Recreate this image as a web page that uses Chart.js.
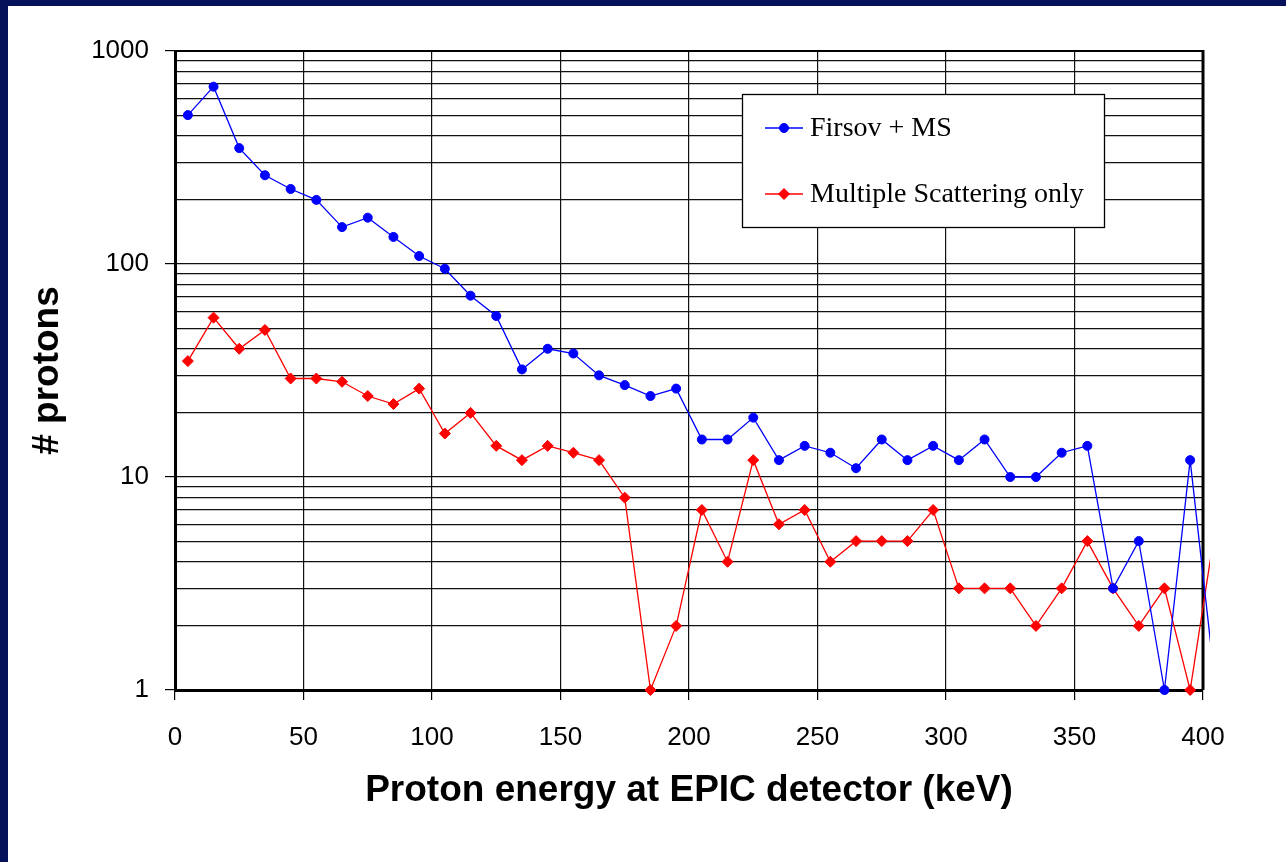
<!DOCTYPE html>
<html><head><meta charset="utf-8">
<script src="https://cdn.jsdelivr.net/npm/chart.js@4/dist/chart.umd.min.js"></script>
<style>html,body{margin:0;padding:0;background:#fff;overflow:hidden}#wrap{width:1286px;height:862px}</style>
</head><body><div id="wrap"><canvas id="c" width="1286" height="862"></canvas></div>
<script>
// Proton energy (keV) bin centres
const energies = [5,15,25,35,45,55,65,75,85,95,105,115,125,135,145,155,165,175,185,195,205,215,225,235,245,255,265,275,285,295,305,315,325,335,345,355,365,375,385,395,405];
// Firsov + MS
const firsovMS = [500,680,350,261,225,200,149,165,134,109,95,71,57,32,40,38,30,27,24,26,15,15,19,12,14,13,11,15,12,14,12,15,10,10,13,14,3,5,1,12,1];
// Multiple Scattering only
const msOnly = [35,56,40,49,29,29,28,24,22,26,16,20,14,12,14,13,12,8,1,2,7,4,12,6,7,4,5,5,5,7,3,3,3,2,3,5,3,2,3,1,6];
const seriesNames = ['Firsov + MS', 'Multiple Scattering only'];
const xTickLabels = [0,50,100,150,200,250,300,350,400];
const yTickLabels = [1,10,100,1000];
const yGridValues = [1,2,3,4,5,6,7,8,9,10,20,30,40,50,60,70,80,90,100,200,300,400,500,600,700,800,900,1000];

const toPts = arr => energies.map((e,i)=>({x:e, y:arr[i]}));

const bgPlugin = {
  id:'bg',
  beforeDraw(chart){
    const c = chart.ctx;
    c.save();
    c.fillStyle = '#fff';
    c.fillRect(0,0,chart.width,chart.height);
    c.fillStyle = '#06125a';
    c.fillRect(0,0,chart.width,6);
    c.fillRect(0,0,8,chart.height);
    c.restore();
  }
};
const framePlugin = {
  id:'frame',
  beforeDatasetsDraw(chart){
    const a = chart.chartArea, c = chart.ctx;
    c.save();
    c.strokeStyle = '#000';
    c.lineWidth = 2;
    c.beginPath(); c.moveTo(a.left, a.top); c.lineTo(a.right, a.top); c.stroke();
    c.lineWidth = 3;
    c.beginPath(); c.moveTo(a.right, a.top-1); c.lineTo(a.right, a.bottom); c.stroke();
    c.restore();
  }
};
const legendPlugin = {
  id:'boxLegend',
  afterDatasetsDraw(chart){
    const c = chart.ctx;
    const bx = 742, by = 94, bw = 362, bh = 133;
    c.save();
    c.fillStyle = '#fff';
    c.fillRect(bx, by, bw, bh);
    c.strokeStyle = '#000';
    c.lineWidth = 1.3;
    c.strokeRect(bx+0.5, by+0.5, bw, bh);
    chart.data.datasets.forEach((ds, i) => {
      const y = 128 + i*66;
      c.strokeStyle = ds.borderColor;
      c.lineWidth = 1.3;
      c.beginPath(); c.moveTo(765, y); c.lineTo(803, y); c.stroke();
      c.fillStyle = ds.pointBackgroundColor;
      c.strokeStyle = ds.pointBorderColor;
      c.lineWidth = 1;
      Chart.helpers.drawPoint(c, {pointStyle: ds.pointStyle, radius: ds.legendRadius, rotation:0, borderWidth:1}, 784, y);
      c.fillStyle = '#000';
      c.font = '28px "Liberation Serif"';
      c.textBaseline = 'middle';
      c.textAlign = 'left';
      c.fillText(ds.label, 810, y+1);
    });
    c.restore();
  }
};

new Chart(document.getElementById('c'), {
  type:'line',
  data:{
    datasets:[
      {label:seriesNames[0], data:toPts(firsovMS), borderColor:'#0000ff', backgroundColor:'#0000ff',
       pointBackgroundColor:'#0000ff', pointBorderColor:'#0000ff', pointStyle:'circle', legendRadius:4.5,
       pointRadius: ctx => (ctx.raw && ctx.raw.x > 400) ? 0 : 4.5, pointBorderWidth:1, borderWidth:1.3, tension:0,
       clip:{left:10, top:10, right:7, bottom:10}},
      {label:seriesNames[1], data:toPts(msOnly), borderColor:'#ff0000', backgroundColor:'#ff0000',
       pointBackgroundColor:'#ff0000', pointBorderColor:'#ff0000', pointStyle:'rectRot', legendRadius:5.5,
       pointRadius: ctx => (ctx.raw && ctx.raw.x > 400) ? 0 : 5.5, pointBorderWidth:1, borderWidth:1.3, tension:0,
       clip:{left:10, top:10, right:7, bottom:10}}
    ]
  },
  options:{
    responsive:false, animation:false, devicePixelRatio:1,
    layout:{padding:{top:51, right:83, bottom:0, left:0}},
    plugins:{legend:{display:false}, tooltip:{enabled:false}},
    scales:{
      x:{type:'linear', min:0, max:400,
        afterBuildTicks: s => { s.ticks = xTickLabels.map(v=>({value:v})); },
        afterFit: s => { s.height = 172; },
        ticks:{color:'#000', font:{family:'Liberation Sans', size:26}, padding:22, maxRotation:0, autoSkip:false},
        grid:{color:'#111', lineWidth:1.2, tickLength:10, tickColor:'#000', tickWidth:1.2},
        border:{color:'#000', width:3},
        title:{display:true, text:'Proton energy at EPIC detector (keV)', color:'#000',
          font:{family:'Liberation Sans', size:37, weight:'bold'}, padding:{top:0, bottom:49}}
      },
      y:{type:'logarithmic', min:1, max:1000,
        afterBuildTicks: s => { s.ticks = yGridValues.map(v=>({value:v})); },
        afterFit: s => { s.width = 175; },
        ticks:{color:'#000', font:{family:'Liberation Sans', size:26}, padding:16, autoSkip:false,
          callback: v => yTickLabels.includes(v) ? String(v) : ''},
        grid:{color:'#111', lineWidth:1.2, tickLength:10, tickWidth:1.2,
          tickColor: ctx => (ctx.tick && yTickLabels.includes(ctx.tick.value)) ? '#000' : 'rgba(0,0,0,0)'},
        border:{color:'#000', width:3},
        title:{display:true, text:'# protons', color:'#000',
          font:{family:'Liberation Sans', size:37, weight:'bold'}, padding:{top:26, bottom:0}}
      }
    }
  },
  plugins:[bgPlugin, framePlugin, legendPlugin]
});
</script>
</body></html>
